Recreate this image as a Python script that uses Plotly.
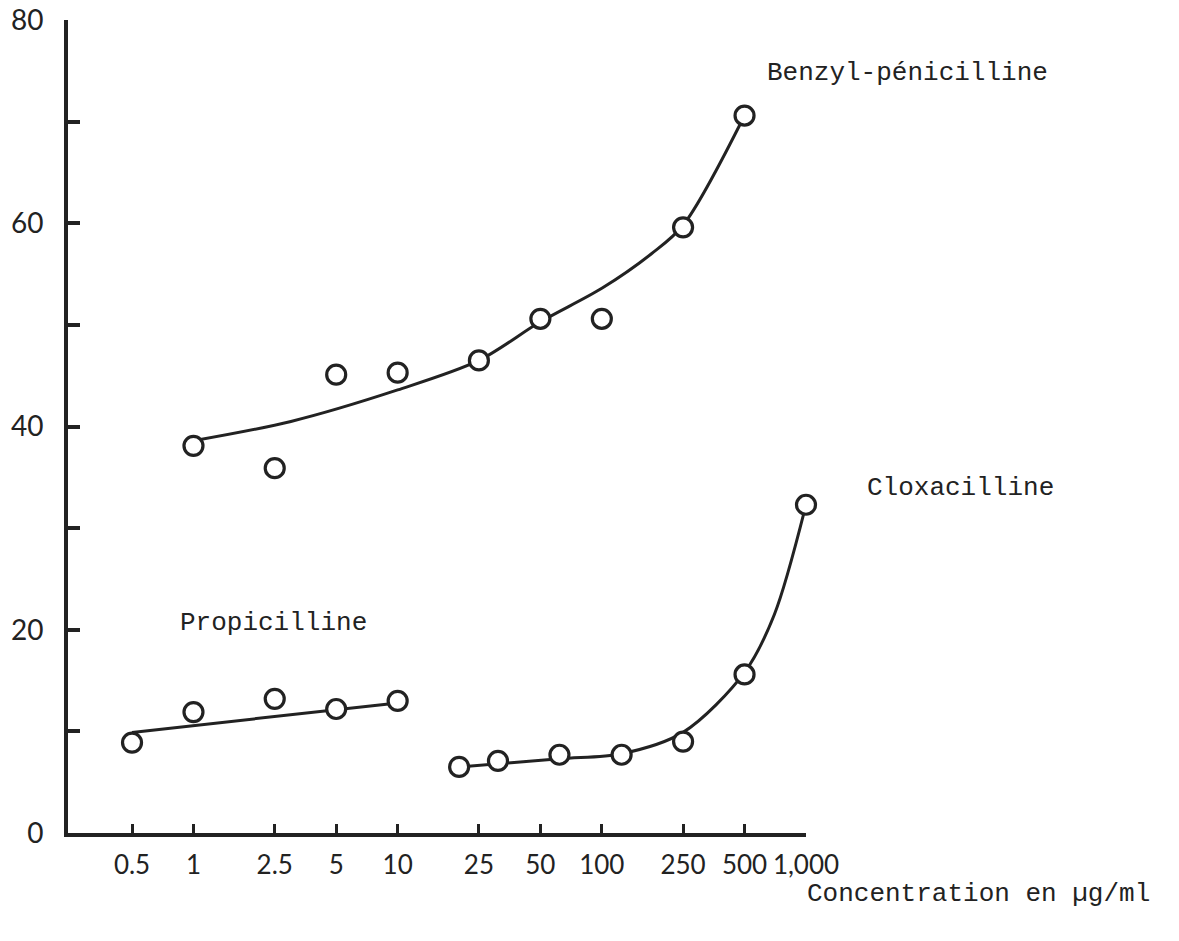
import plotly.graph_objects as go

# Concentration axis (µg/ml, log scale) and its printed labels
conc_ticks = [0.5, 1, 2.5, 5, 10, 25, 50, 100, 250, 500, 1000]
conc_tick_text = ["0.5", "1", "2.5", "5", "10", "25", "50", "100", "250", "500", "1,000"]
pct_ticks = [0, 10, 20, 30, 40, 50, 60, 70, 80]
pct_tick_text = ["0", "", "20", "", "40", "", "60", "", "80"]

# Benzyl-pénicilline: measured points and hand-fitted curve
benzyl_conc = [1, 2.5, 5, 10, 25, 50, 100, 250, 500]
benzyl_pct = [38.1, 35.9, 45.1, 45.3, 46.5, 50.6, 50.6, 59.6, 70.6]
benzyl_fit_conc = [1, 3, 10, 25, 50, 100, 175, 250, 500]
benzyl_fit_pct = [38.6, 40.5, 43.6, 46.5, 50.3, 53.6, 57.0, 59.8, 70.6]

# Propicilline: measured points and straight fitted line
propi_conc = [0.5, 1, 2.5, 5, 10]
propi_pct = [8.9, 11.9, 13.2, 12.2, 13.0]
propi_fit_conc = [0.5, 10]
propi_fit_pct = [9.9, 12.8]

# Cloxacilline: measured points and hand-fitted curve
clox_conc = [20, 31, 62, 125, 250, 500, 1000]
clox_pct = [6.5, 7.1, 7.7, 7.7, 9.0, 15.6, 32.3]
clox_fit_conc = [20, 62, 125, 250, 500, 700, 1000]
clox_fit_pct = [6.5, 7.3, 7.8, 9.9, 15.8, 21.5, 32.3]

INK = "#222222"
MONO = "Liberation Mono, Courier New, monospace"
SANS = "Lato, DejaVu Sans, sans-serif"

fig = go.Figure()

for fx, fy in [(benzyl_fit_conc, benzyl_fit_pct),
               (propi_fit_conc, propi_fit_pct),
               (clox_fit_conc, clox_fit_pct)]:
    fig.add_trace(go.Scatter(
        x=fx, y=fy, mode="lines",
        line=dict(color=INK, width=3, shape="spline", smoothing=0.9),
        cliponaxis=False, showlegend=False, hoverinfo="skip"))

for px, py in [(benzyl_conc, benzyl_pct),
               (propi_conc, propi_pct),
               (clox_conc, clox_pct)]:
    fig.add_trace(go.Scatter(
        x=px, y=py, mode="markers",
        marker=dict(symbol="circle", size=19, color="white",
                    line=dict(color=INK, width=3.2)),
        cliponaxis=False, showlegend=False))

labels = [
    ("Benzyl-pénicilline", 0.9444, 0.9348),
    ("Cloxacilline", 1.080, 0.4244),
    ("Propicilline", 0.149, 0.2583),
    ("Concentration en µg/ml", 0.9986, -0.0745),
]
for text, ax, ay in labels:
    fig.add_annotation(text=text, x=ax, y=ay, xref="paper", yref="paper",
                       xanchor="left", yanchor="middle", showarrow=False,
                       font=dict(family=MONO, size=26, color=INK))

fig.update_xaxes(
    type="log", range=[-0.6146, 3.0], automargin=False,
    tickvals=conc_ticks, ticktext=conc_tick_text, tickangle=0,
    ticks="inside", ticklen=9, tickwidth=2.5, tickcolor=INK,
    showline=True, linewidth=4, linecolor=INK,
    showgrid=False, zeroline=False,
    ticklabelstandoff=6,
    tickfont=dict(family=SANS, size=26, color=INK))

fig.update_yaxes(
    range=[0, 80], automargin=False,
    tickvals=pct_ticks, ticktext=pct_tick_text,
    ticks="inside", ticklen=12, tickwidth=3.5, tickcolor=INK,
    showline=True, linewidth=4, linecolor=INK,
    showgrid=False, zeroline=False,
    ticklabelstandoff=15,
    tickfont=dict(family=SANS, size=28, color=INK))

fig.update_layout(
    width=1179, height=941,
    margin=dict(l=68, r=373, t=20, b=108),
    paper_bgcolor="white", plot_bgcolor="white",
    showlegend=False)

fig.write_html("out.html")
